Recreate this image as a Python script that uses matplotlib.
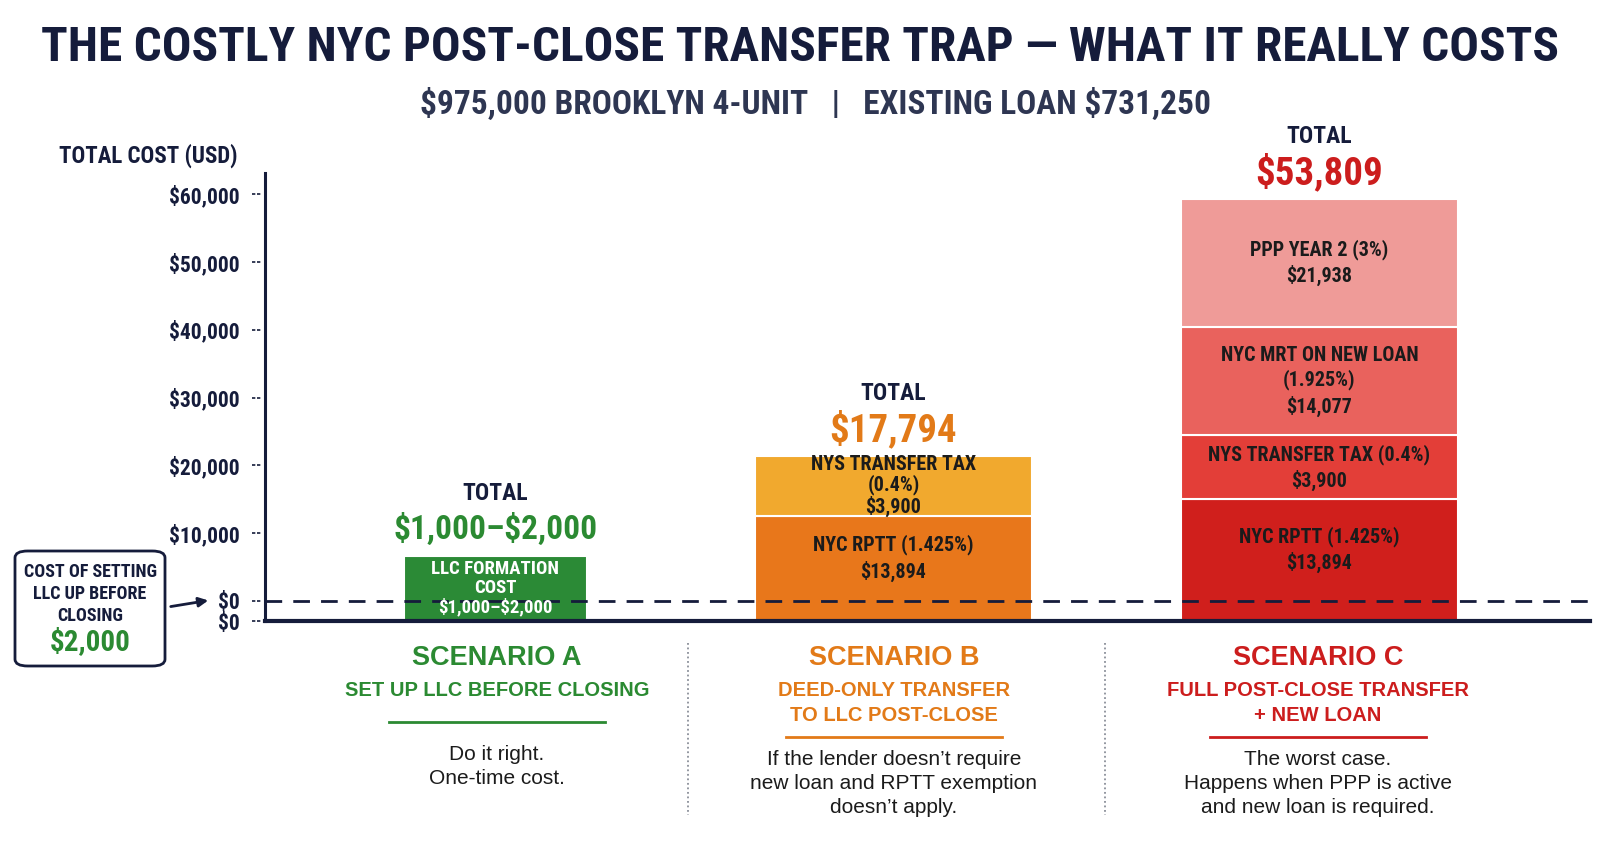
import matplotlib
matplotlib.use("Agg")
import matplotlib.pyplot as plt
from matplotlib import font_manager
from matplotlib.lines import Line2D
from matplotlib.patches import FancyBboxPatch
import matplotlib.transforms as mtransforms

plt.rcParams["text.parse_math"] = False

# --- data ---
scenarios = ["SCENARIO A", "SCENARIO B", "SCENARIO C"]
scenario_subs = [
    "SET UP LLC BEFORE CLOSING",
    "DEED-ONLY TRANSFER\nTO LLC POST-CLOSE",
    "FULL POST-CLOSE TRANSFER\n+ NEW LOAN",
]
scenario_notes = [
    "Do it right.\nOne-time cost.",
    "If the lender doesn\u2019t require\nnew loan and RPTT exemption\ndoesn\u2019t apply.",
    "The worst case.\nHappens when PPP is active\nand new loan is required.",
]
totals = ["$1,000\u2013$2,000", "$17,794", "$53,809"]

# segment labels, bottom to top
seg_labels = [
    ["LLC FORMATION\nCOST\n$1,000\u2013$2,000"],
    ["NYC RPTT (1.425%)\n$13,894", "NYS TRANSFER TAX\n(0.4%)\n$3,900"],
    ["NYC RPTT (1.425%)\n$13,894", "NYS TRANSFER TAX (0.4%)\n$3,900",
     "NYC MRT ON NEW LOAN\n(1.925%)\n$14,077", "PPP YEAR 2 (3%)\n$21,938"],
]
# top of each drawn segment, as read on the y axis (USD)
seg_tops = [
    [6650],
    [12550, 21400],
    [15000, 24400, 40400, 59400],
]
seg_colors = [
    ["#2b8a36"],
    ["#e8771b", "#f1a92e"],
    ["#d01f1c", "#e33e38", "#e9625d", "#ef9b98"],
]
seg_text_colors = [["white"], ["#1b1b1b", "#1b1b1b"], ["#1b1b1b"] * 4]
accent = ["#2b8a32", "#e27a18", "#cc1d1d"]
total_sizes = [24, 28, 28]

ytick_vals = [-3000, 0, 10000, 20000, 30000, 40000, 50000, 60000]
ytick_labels = ["$0", "$0", "$10,000", "$20,000", "$30,000", "$40,000", "$50,000", "$60,000"]

NAVY = "#151c3b"
names = {f.name for f in font_manager.fontManager.ttflist}
COND = "DejaVu Sans"
for cand in ["Liberation Sans Narrow", "Roboto Condensed", "DejaVu Sans Condensed"]:
    if cand in names:
        COND = cand
        break
BODY = "Liberation Sans" if "Liberation Sans" in names else "DejaVu Sans"

cond = dict(family=COND, fontstretch="condensed", fontweight="bold")

W, H = 1600, 842
fig = plt.figure(figsize=(W / 100, H / 100), dpi=100)
fig.patch.set_facecolor("white")


def fx(px):
    return px / W


def fy(py):
    return 1 - py / H


ax = fig.add_axes([fx(265), fy(621), fx(1590) - fx(265), fy(173) - fy(621)])
ax.set_xlim(-0.579, 2.75)
ax.set_ylim(-3000, 63170)
for s in ["top", "right", "bottom"]:
    ax.spines[s].set_visible(False)
ax.spines["left"].set_color(NAVY)
ax.spines["left"].set_linewidth(2.2)
ax.set_xticks([])
ax.set_yticks(ytick_vals)
ax.set_yticklabels(ytick_labels, fontsize=15.5, color=NAVY, **cond)
ax.tick_params(axis="y", length=0, pad=18)

# dashed tick stubs
trans = mtransforms.blended_transform_factory(ax.transAxes, ax.transData)
for v in ytick_vals:
    ax.plot([-0.0098, -0.002], [v, v], transform=trans, color=NAVY, lw=1.2,
            ls=(0, (2, 1)), clip_on=False)

positions = [0, 1, 2.07]
widths = [0.46, 0.696, 0.696]
label_spacing = [[1.05], [1.3, 1.05], [1.3, 1.3, 1.3, 1.3]]
y0 = ax.get_ylim()[0]

for i, x in enumerate(positions):
    bottom = y0
    for j, top in enumerate(seg_tops[i]):
        ax.bar(x, top - bottom, bottom=bottom, width=widths[i], color=seg_colors[i][j],
               edgecolor="white", linewidth=1.5, zorder=2)
        lo = bottom if len(seg_tops[i]) == 1 else max(bottom, 0)
        fs = 13.5 if i == 0 else 14.5
        ax.text(x, (lo + top) / 2, seg_labels[i][j], ha="center", va="center",
                fontsize=fs, color=seg_text_colors[i][j],
                linespacing=label_spacing[i][j], zorder=5, **cond)
        bottom = top
    top = seg_tops[i][-1]
    ax.annotate(totals[i], (x, top), xytext=(0, 26), textcoords="offset pixels",
                ha="center", va="center", fontsize=total_sizes[i], color=accent[i],
                zorder=5, **cond)
    ax.annotate("TOTAL", (x, top), xytext=(0, 62), textcoords="offset pixels",
                ha="center", va="center", fontsize=17, color=NAVY, zorder=5, **cond)

# zero reference and baseline
ax.axhline(0, color=NAVY, lw=2, ls=(0, (6, 4)), zorder=3)
ax.axhline(y0, color=NAVY, lw=3, zorder=3, clip_on=False)

# titles
fig.text(0.5, fy(48), "THE COSTLY NYC POST-CLOSE TRANSFER TRAP \u2014 WHAT IT REALLY COSTS",
         ha="center", va="center", fontsize=35.5, color=NAVY, **cond)
fig.text(fx(816), fy(104), "$975,000 BROOKLYN 4-UNIT   |   EXISTING LOAN $731,250",
         ha="center", va="center", fontsize=24, color="#2e3652",
         family=COND, fontstretch="condensed", fontweight="semibold")
fig.text(fx(148), fy(156), "TOTAL COST (USD)", ha="center", va="center",
         fontsize=16.5, color=NAVY, **cond)

# callout box
box = FancyBboxPatch((fx(15), fy(666)), fx(150), fy(551) - fy(666),
                     boxstyle="round,pad=0,rounding_size=0.008",
                     transform=fig.transFigure, facecolor="white",
                     edgecolor=NAVY, linewidth=2)
fig.add_artist(box)
fig.text(fx(90), fy(594), "COST OF SETTING\nLLC UP BEFORE\nCLOSING", ha="center",
         va="center", fontsize=13, color=NAVY, linespacing=1.3, **cond)
fig.text(fx(90), fy(642), "$2,000", ha="center", va="center", fontsize=21,
         color=accent[0], **cond)
fig.add_artist(matplotlib.text.Annotation(
    "", xy=(fx(211), fy(600)), xytext=(fx(168), fy(607)),
    xycoords="figure fraction", textcoords="figure fraction",
    arrowprops=dict(arrowstyle="-|>", color=NAVY, lw=2, mutation_scale=14)))

# scenario captions
cx = [497, 894, 1318]
note_y = [745, 750, 750]
for i in range(3):
    fig.text(fx(cx[i]), fy(658), scenarios[i], ha="center", va="center",
             fontsize=19.5, fontweight="bold", family=BODY, color=accent[i])
    nsub = scenario_subs[i].count("\n") + 1
    fig.text(fx(cx[i]), fy(681), scenario_subs[i], ha="center", va="top",
             fontsize=14.5, fontweight="bold", family=BODY, color=accent[i],
             linespacing=1.4)
    uy = 722 if nsub == 1 else 737
    fig.add_artist(Line2D([fx(cx[i] - 108), fx(cx[i] + 108)], [fy(uy), fy(uy)],
                          color=accent[i], lw=2))
    fig.text(fx(cx[i]), fy(note_y[i]), scenario_notes[i], ha="center", va="top",
             fontsize=15, family=BODY, color="#1b1b1b", linespacing=1.32)

for sx in [688, 1105]:
    fig.add_artist(Line2D([fx(sx), fx(sx)], [fy(643), fy(815)], color="#8a8f99",
                          lw=1.3, ls=(0, (1, 1.5))))

fig.savefig("out.png", dpi=100, facecolor="white")
